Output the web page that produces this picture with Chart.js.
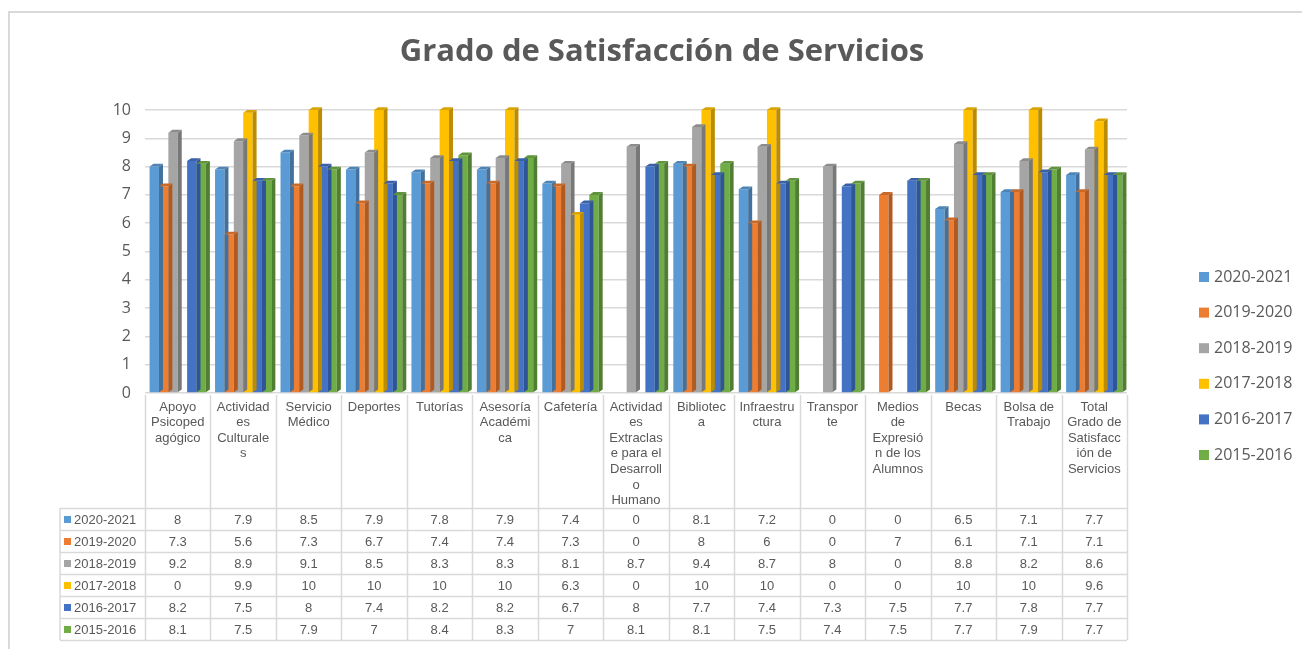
<!DOCTYPE html>
<html><head><meta charset="utf-8">
<script src="https://cdn.jsdelivr.net/npm/chart.js@4.4.0/dist/chart.umd.min.js"></script>
<style>html,body{margin:0;padding:0;background:#fff;}#wrap{width:1302px;height:649px;position:relative;}</style>
</head><body><div id="wrap"><canvas id="c" width="1302" height="649"></canvas></div>
<script>
const titleText = "Grado de Satisfacción de Servicios";
const categories = [
  ["Apoyo","Psicoped","agógico"],
  ["Actividad","es","Culturale","s"],
  ["Servicio","Médico"],
  ["Deportes"],
  ["Tutorías"],
  ["Asesoría","Académi","ca"],
  ["Cafetería"],
  ["Actividad","es","Extraclas","e para el","Desarroll","o","Humano"],
  ["Bibliotec","a"],
  ["Infraestru","ctura"],
  ["Transpor","te"],
  ["Medios","de","Expresió","n de los","Alumnos"],
  ["Becas"],
  ["Bolsa de","Trabajo"],
  ["Total","Grado de","Satisfacc","ión de","Servicios"]
];
const seriesNames = ["2020-2021","2019-2020","2018-2019","2017-2018","2016-2017","2015-2016"];
const s2020 = [8,7.9,8.5,7.9,7.8,7.9,7.4,0,8.1,7.2,0,0,6.5,7.1,7.7];
const s2019 = [7.3,5.6,7.3,6.7,7.4,7.4,7.3,0,8,6,0,7,6.1,7.1,7.1];
const s2018 = [9.2,8.9,9.1,8.5,8.3,8.3,8.1,8.7,9.4,8.7,8,0,8.8,8.2,8.6];
const s2017 = [0,9.9,10,10,10,10,6.3,0,10,10,0,0,10,10,9.6];
const s2016 = [8.2,7.5,8,7.4,8.2,8.2,6.7,8,7.7,7.4,7.3,7.5,7.7,7.8,7.7];
const s2015 = [8.1,7.5,7.9,7,8.4,8.3,7,8.1,8.1,7.5,7.4,7.5,7.7,7.9,7.7];
const yTicks = [0,1,2,3,4,5,6,7,8,9,10];

const colors = ["#5B9BD5","#ED7D31","#A5A5A5","#FFC000","#4472C4","#70AD47"];
const sideColors = ["#41719C","#AE5A21","#787878","#BC8C00","#2F5597","#507E32"];
const allSeries = [s2020,s2019,s2018,s2017,s2016,s2015];

function shade(hex, f){
  const n = parseInt(hex.slice(1),16);
  let r=(n>>16)&255,g=(n>>8)&255,b=n&255;
  r=Math.round(r*f);g=Math.round(g*f);b=Math.round(b*f);
  return `rgb(${r},${g},${b})`;
}

const depth = 4;
const threeD = {
  id:'threeD',
  afterDatasetsDraw(chart){
    const ctx = chart.ctx;
    chart.data.datasets.forEach((ds,i)=>{
      const meta = chart.getDatasetMeta(i);
      meta.data.forEach((bar,j)=>{
        if(!ds.data[j]) return;
        const {x,y,base,width} = bar.getProps(['x','y','base','width'],true);
        const r = x+width/2, l = x-width/2;
        ctx.save();
        ctx.fillStyle = sideColors[i];
        ctx.beginPath();
        ctx.moveTo(r,y); ctx.lineTo(r+depth,y-depth*0.7); ctx.lineTo(r+depth,base-depth*0.7); ctx.lineTo(r,base); ctx.closePath(); ctx.fill();
        ctx.fillStyle = shade(colors[i],0.85);
        ctx.beginPath();
        ctx.moveTo(l,y); ctx.lineTo(l+depth,y-depth*0.7); ctx.lineTo(r+depth,y-depth*0.7); ctx.lineTo(r,y); ctx.closePath(); ctx.fill();
        ctx.restore();
      });
    });
  }
};

const tablePlugin = {
  id:'tablePlugin',
  afterDraw(chart){
    const ctx = chart.ctx;
    const xs = chart.scales.x;
    const ca = chart.chartArea;
    const n = chart.data.labels.length;
    const colW = (ca.right-ca.left)/n;
    const top = 395, headBottom = 508, rowH = 22, labelLeft = 60;
    const nRows = chart.data.datasets.length;
    const bottom = headBottom + rowH*nRows;
    ctx.save();
    // border
    ctx.strokeStyle = "#d9d9d9"; ctx.lineWidth = 2;
    ctx.beginPath(); ctx.moveTo(9,1302); ctx.moveTo(9,649); ctx.lineTo(9,12); ctx.lineTo(1302,12); ctx.stroke();
    // title
    ctx.fillStyle = "#595959";
    ctx.font = "bold 31px 'Open Sans', sans-serif";
    ctx.textAlign = "center"; ctx.textBaseline = "middle";
    ctx.fillText(titleText, 662, 52);
    // grid lines of table
    ctx.strokeStyle = "#d9d9d9"; ctx.lineWidth = 1.5;
    ctx.beginPath();
    for(let k=0;k<=n;k++){
      const x = Math.round(ca.left + k*colW)+0.5;
      ctx.moveTo(x,top); ctx.lineTo(x,bottom);
    }
    ctx.moveTo(labelLeft,headBottom); ctx.lineTo(labelLeft,bottom);
    for(let r=0;r<=nRows;r++){
      const y = headBottom + r*rowH + 0.5;
      ctx.moveTo(labelLeft,y); ctx.lineTo(ca.right,y);
    }
    ctx.stroke();
    // header labels
    ctx.fillStyle = "#595959";
    ctx.font = "13px 'Liberation Sans', Arial, sans-serif";
    ctx.textAlign = "center"; ctx.textBaseline = "middle";
    chart.data.labels.forEach((lab,j)=>{
      const cx = xs.getPixelForValue(j);
      lab.forEach((line,li)=>{ ctx.fillText(line, cx, 407 + li*15.6); });
    });
    // rows
    chart.data.datasets.forEach((ds,i)=>{
      const cy = headBottom + i*rowH + rowH/2 + 1;
      ctx.fillStyle = colors[i];
      ctx.fillRect(64, cy-4, 7, 7);
      ctx.fillStyle = "#595959";
      ctx.textAlign = "left";
      ctx.fillText(ds.label, 74, cy);
      ctx.textAlign = "center";
      ds.data.forEach((v,j)=>{ ctx.fillText(String(v), xs.getPixelForValue(j), cy); });
    });
    // legend
    ctx.font = "16px 'Open Sans', sans-serif";
    ctx.textAlign = "left";
    chart.data.datasets.forEach((ds,i)=>{
      const cy = 277 + i*35.6;
      ctx.fillStyle = colors[i];
      ctx.fillRect(1199, cy-5, 10, 10);
      ctx.fillStyle = "#595959";
      ctx.fillText(ds.label, 1214, cy);
    });
    ctx.restore();
  }
};

new Chart(document.getElementById('c'), {
  type:'bar',
  data:{
    labels: categories,
    datasets: seriesNames.map((name,i)=>({
      label:name, data:allSeries[i], backgroundColor:colors[i], borderWidth:0,
      categoryPercentage:0.86, barPercentage:1.0
    }))
  },
  options:{
    responsive:false, animation:false,
    layout:{padding:{top:110,bottom:256,left:0,right:175}},
    plugins:{legend:{display:false},title:{display:false},tooltip:{enabled:false}},
    scales:{
      x:{display:false, grid:{display:false}},
      y:{min:0,max:10,
        afterBuildTicks:(s)=>{ s.ticks = yTicks.map(v=>({value:v})); },
        afterFit:(s)=>{ s.width = 145; },
        ticks:{color:"#595959", font:{family:"'Open Sans', sans-serif", size:16}, padding:14},
        grid:{color:"#d9d9d9", lineWidth:1.5, drawTicks:false},
        border:{display:false}
      }
    }
  },
  plugins:[threeD, tablePlugin]
});
</script></body></html>
